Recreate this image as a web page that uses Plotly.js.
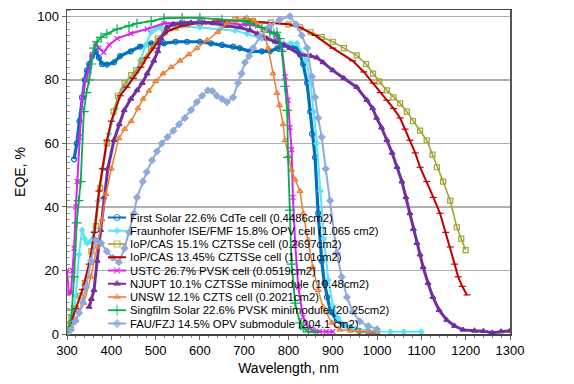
<!DOCTYPE html>
<html><head><meta charset="utf-8">
<script src="https://cdn.plot.ly/plotly-3.0.1.min.js"></script>
<style>html,body{margin:0;padding:0;background:#fff}#chart{width:574px;height:384px}</style>
</head><body><div id="chart"></div>
<script>
// ---- data (wavelength nm, EQE %) ----
var names = [
  "First Solar 22.6% CdTe cell (0.4486cm2)",
  "Fraunhofer ISE/FMF 15.8% OPV cell (1.065 cm2)",
  "IoP/CAS 15.1% CZTSSe cell (0.2697cm2)",
  "IoP/CAS 13.45% CZTSSe cell (1.101cm2)",
  "USTC 26.7% PVSK cell (0.0519cm2)",
  "NJUPT 10.1% CZTSSe minimodule (10.48cm2)",
  "UNSW 12.1% CZTS cell (0.2021cm2)",
  "Singfilm Solar 22.6% PVSK minimodule (20.25cm2)",
  "FAU/FZJ 14.5% OPV submodule (204.1 cm2)"
];

var fsWl  = [316,322,328,334,340,345,350,357,365,372,379,390,406,420,444,465,490,519,545,571,600,625,650,675,690,713,740,758,775,788,805,819,826,833,842,849,853,860,867,875,881,887,895,909,925,939,960,980,1000];
var fsEqe = [55,60,67,74.5,80,83,85,87.5,89,87,85,84.8,85.5,87.5,89,90.5,91.5,91.5,92,92,92,91.5,91,90.5,90,89,89,89,90,91,90.5,90,88,85,79,70,63,55.6,38,23,16,11.6,7,4.4,2.8,2,1,0.7,0.5];

var fhWl  = [300,310,320,327,334,340,345,352,360,370,380,395,410,425,440,453,465,478,490,500,510,530,560,600,645,680,706,740,770,788,805,819,833,840,850,857,864,872,880,890,900,912,930,950,975,1000,1030,1060,1100];
var fhEqe = [1,3,12,25,32.7,30,28.6,29,32,42,52,63,71,77,80,82,86,91,95,96,96.5,97,97,96.5,96,95.5,94.5,93,92,91.5,91.5,91.5,88,86,79,70,60,45,30,17,9,5,2.5,1.5,1,0.8,0.7,0.7,0.7];

var ioaWl  = [300,310,320,330,340,355,365,375,390,405,415,430,445,456,470,490,505,520,545,570,600,640,680,720,760,800,826,850,875,900,925,954,975,991,1005,1022,1037,1052,1067,1081,1097,1112,1125,1135,1149,1165,1180,1190,1200];
var ioaEqe = [3,5,8,12,16,26,34,46,60,70,75,79,81.5,83,86,90,93,95,96.5,97.5,98,98.5,99,98.5,98,97.5,96.5,95,93.5,92,90,87.7,85,82,79.5,76.7,74.5,72.6,70,67,64,61,56.5,52.5,48,42,33.6,30,26.4];

var iobWl  = [300,310,320,335,350,362,372,380,390,400,420,435,450,467,480,496,510,530,560,600,650,700,750,800,826,860,900,945,970,991,1007,1022,1037,1052,1063,1074,1086,1097,1112,1127,1142,1155,1165,1175,1183,1192,1203];
var iobEqe = [1,4,8,14,22,32,45,52,61,67,75,77.7,80.5,84,87,90,93,95.5,97,98,98.5,98.5,98,97.5,96.5,94,90,86,82.5,79,76,73.6,71,68,64.5,61,57,52.5,48,43,38,32,27.4,22,18,15,12.3];

var usWl  = [300,304,309,313,316,320,323,328,334,342,350,357,365,372,383,395,413,444,481,519,560,600,650,700,730,758,772,785,792,799,803,807,810,815,822,833,845,853,870,885,900];
var usEqe = [20,13,13,20,27,40,48,62,74.5,80,83,88,91.5,90,88.7,91,93,94.6,96,97.8,98,98.3,98,97.5,97,95.6,94,90,81,73.6,65,58,43,28.6,14.8,5.3,2,1.3,0.8,0.7,0.7];

var njWl  = [350,355,361,368,376,383,392,406,418,429,444,458,470,481,496,505,512,526,540,557,580,610,630,660,690,713,730,751,770,790,803,826,850,864,878,900,925,954,977,990,999,1010,1022,1034,1045,1056,1065,1074,1082,1090,1097,1104,1115,1126,1140,1157,1175,1194,1220,1240,1260,1280,1300];
var njEqe = [8.5,11,13.8,23,32.7,43,52,61,66,70.4,74,76.7,79,82,86,89,93,96.5,97.5,97.8,98,98,97.8,97,96.5,95.6,94.5,93,92,91,90,88,87.5,87,85.5,83,80.5,77.7,73.6,71,68,65,61,57,52.5,48,43,38,33,28.6,25,21,16,11.6,7.5,4.4,2.5,1.3,1,0.9,0.4,0.8,1];

var unWl  = [300,309,320,338,354,368,379,388,400,417,430,445,460,472,485,500,517,535,555,575,593,616,640,661,685,706,720,730,742,754,765,774,780,788,792,800,807,815,826,833,844,855,867,878,898,916,940,960,980,1000];
var unEqe = [1,2.2,4.5,9.7,18,27.4,36,44,52,61.6,64.5,67,71,74,76.5,79.5,82,84,86,88,90,92.5,95,97.8,99,99.5,98.7,97.5,95.6,90,82,75.8,72,66,61,56,51.6,48.5,45,38,29.6,21,13.8,8.5,3.5,1.3,1,0.8,0.8,0.7];

var sgWl  = [300,305,311,316,322,326,331,338,344,350,355,361,368,377,390,413,440,458,490,519,560,600,650,700,713,740,758,767,774,780,785,792,797,799,803,807,815,826,833,845,860];
var sgEqe = [1,1.3,7.5,18,35,42,48,70,76,80,85,90,92,93.4,94.5,96,97,97.8,98.5,99.4,99.5,99.5,99,98.5,97.8,96.5,95,94.5,95,93,89,78,70.4,55.6,39,22,9.7,3.5,1.9,0.7,0.5];

var faWl  = [309,318,327,335,343,354,365,377,390,403,417,430,440,451,458,471,480,492,503,514,527,540,553,566,580,593,605,618,628,638,650,661,675,686,694,702,711,720,735,758,780,803,817,830,842,853,860,867,875,884,894,909,920,932,945,961,980,1000];
var faEqe = [1.3,4,6.6,10,14.8,23,29.6,28.6,26,24,22.6,27,32,38,43,48,51,54.7,57.5,60,62,64,66,68,70.5,73,75,76.7,76.5,75,74,73,74.5,79,82,85.5,87.5,90,93.5,97,99,100,97.5,94,90,81,74.5,68,62,52,42,25.5,18,11.6,7,4,2.5,1.5];

var xTicks = [300,400,500,600,700,800,900,1000,1100,1200,1300];
var yTicks = [0,20,40,60,80,100];

// ---- styles (lw: plot line width, llw: legend sample line width) ----
var styles = [
  {c:'#0070C0', s:'circle-open',      ms:5, lw:3.2, llw:2},
  {c:'#5BE3F3', s:'diamond',          ms:4, lw:2,   llw:2},
  {c:'#A3A232', s:'square-open',      ms:5, lw:1.6, llw:1.6},
  {c:'#C00000', s:'line-ew',          ms:5, lw:2,   llw:2},
  {c:'#DD22EE', s:'x-thin',           ms:5, lw:2,   llw:2},
  {c:'#7030A0', s:'triangle-up',      ms:5, lw:3,   llw:2},
  {c:'#ED7D31', s:'triangle-up-open', ms:5, lw:1.5, llw:1.6},
  {c:'#00B050', s:'cross-thin',       ms:7, lw:1.8, llw:1.8},
  {c:'#8FAADC', s:'diamond',          ms:5, lw:2,   llw:2}
];
var series = [[fsWl,fsEqe],[fhWl,fhEqe],[ioaWl,ioaEqe],[iobWl,iobEqe],[usWl,usEqe],
              [njWl,njEqe],[unWl,unEqe],[sgWl,sgEqe],[faWl,faEqe]];

var data = [];
series.forEach(function(sr, i){
  var st = styles[i];
  data.push({
    x: sr[0], y: sr[1], name: names[i], type: 'scatter', mode: 'lines+markers',
    showlegend: false,
    line: {color: st.c, width: st.lw},
    marker: {symbol: st.s, size: st.ms, color: st.c, line: {color: st.c, width: 1.2}}
  });
});

// ---- custom compact legend (plot-fraction coordinates on overlay axes) ----
function fx(px){ return (px - 67) / 443; }
function fy(py){ return (334 - py) / 324; }
var legX0 = fx(108), legX1 = fx(126), legXm = fx(117), legTx = fx(128);
var annotations = [];
styles.forEach(function(st, i){
  var yy = fy(217.5 + 13.25 * i);
  data.push({
    x: [legX0, legXm, legX1], y: [yy, yy, yy], xaxis: 'x2', yaxis: 'y2',
    type: 'scatter', mode: 'lines+markers', showlegend: false, hoverinfo: 'skip',
    line: {color: st.c, width: st.llw},
    marker: {symbol: st.s, size: [0, st.ms + 1, 0], color: st.c, line: {color: st.c, width: 1.2}}
  });
  annotations.push({
    xref: 'paper', yref: 'paper', x: legTx, y: yy, xanchor: 'left', yanchor: 'middle',
    text: names[i], showarrow: false, font: {size: 11.3, color: '#000'}
  });
});

var layout = {
  width: 574, height: 384,
  margin: {l: 67, r: 64, t: 10, b: 50},
  paper_bgcolor: '#fff', plot_bgcolor: '#fff',
  font: {family: 'Liberation Sans, Arial, sans-serif', color: '#000', size: 13},
  showlegend: false,
  annotations: annotations,
  xaxis: {
    range: [300, 1300], tickvals: xTicks, ticktext: xTicks.map(String),
    showgrid: false, zeroline: false,
    showline: true, mirror: true, linecolor: '#444', linewidth: 1.5,
    ticks: 'outside', ticklen: 4, tickcolor: '#666',
    minor: {dtick: 20, ticks: 'outside', ticklen: 2, tickcolor: '#888'},
    title: {text: 'Wavelength, nm', font: {size: 14}, standoff: 6},
    tickfont: {size: 13}
  },
  yaxis: {
    range: [0, 102], tickvals: yTicks, ticktext: yTicks.map(String),
    showgrid: true, gridcolor: '#B0B0B0', gridwidth: 1.3, zeroline: false,
    showline: true, mirror: true, linecolor: '#555', linewidth: 1.5,
    ticks: 'outside', ticklen: 4, tickcolor: '#666',
    minor: {dtick: 2, ticks: 'inside', ticklen: 3, tickcolor: '#999', showgrid: false},
    title: {text: 'EQE, %', font: {size: 14}, standoff: 8},
    tickfont: {size: 13}
  },
  xaxis2: {overlaying: 'x', anchor: 'y2', range: [0, 1], visible: false, fixedrange: true},
  yaxis2: {overlaying: 'y', anchor: 'x2', range: [0, 1], visible: false, fixedrange: true}
};
Plotly.newPlot('chart', data, layout, {staticPlot: true, displayModeBar: false});
</script></body></html>
